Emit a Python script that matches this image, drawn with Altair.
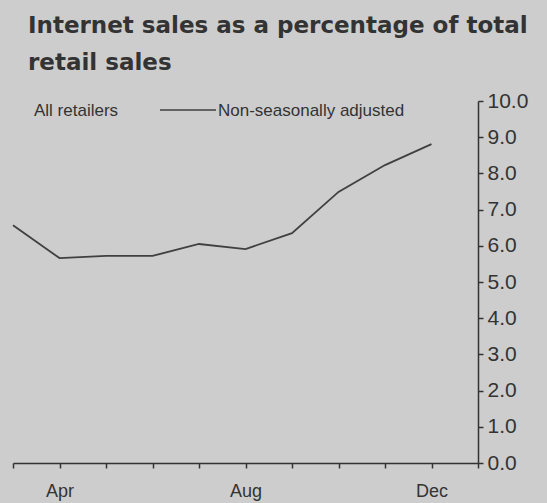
import altair as alt
import pandas as pd

# Data
months = [3, 4, 5, 6, 7, 8, 9, 10, 11, 12]
values = [6.57, 5.66, 5.72, 5.72, 6.05, 5.91, 6.35, 7.49, 8.23, 8.81]
x_ticks = [3, 4, 5, 6, 7, 8, 9, 10, 11, 12, 13]
x_labels = {4: "Apr", 8: "Aug", 12: "Dec"}
y_ticks = [0, 1, 2, 3, 4, 5, 6, 7, 8, 9, 10]
title_lines = ["Internet sales as a percentage of total", "retail sales"]
legend_left = "All retailers"
legend_right = "Non-seasonally adjusted"

df = pd.DataFrame({"month": months, "value": values})

label_expr = " : ".join(
    [f"datum.value == {k} ? '{v}'" for k, v in x_labels.items()]
) + " : ''"

TXT = "#333333"
FONT = "Liberation Sans"

line = alt.Chart(df).mark_line(color="#404040", strokeWidth=1.8).encode(
    x=alt.X(
        "month:Q",
        scale=alt.Scale(domain=[3, 13], nice=False, zero=False),
        axis=alt.Axis(
            values=x_ticks, labelExpr=label_expr, title=None, grid=False,
            domainColor=TXT, domainWidth=1.5, tickColor=TXT, tickWidth=1.5,
            tickSize=5, labelFont=FONT, labelFontSize=18, labelColor=TXT,
            labelPadding=14, labelFlush=False,
        ),
    ),
    y=alt.Y(
        "value:Q",
        scale=alt.Scale(domain=[0, 10], nice=False),
        axis=alt.Axis(
            orient="right", values=y_ticks, format=".1f", title=None, grid=False,
            domainColor=TXT, domainWidth=1.5, tickColor=TXT, tickWidth=1.5,
            tickSize=5, labelFont=FONT, labelFontSize=21, labelColor=TXT,
            labelPadding=4, labelFlush=False,
        ),
    ),
)

t1 = alt.Chart(pd.DataFrame({"t": [title_lines[0]]})).mark_text(
    align="left", baseline="alphabetic", font="DejaVu Sans", fontWeight="bold",
    fontSize=23, color=TXT,
).encode(text="t:N", x=alt.value(15), y=alt.value(-68))

t2 = alt.Chart(pd.DataFrame({"t": [title_lines[1]]})).mark_text(
    align="left", baseline="alphabetic", font="DejaVu Sans", fontWeight="bold",
    fontSize=23, color=TXT,
).encode(text="t:N", x=alt.value(15), y=alt.value(-31))

lg1 = alt.Chart(pd.DataFrame({"t": [legend_left]})).mark_text(
    align="left", baseline="alphabetic", font=FONT, fontSize=17, color=TXT,
).encode(text="t:N", x=alt.value(21), y=alt.value(15))

lg2 = alt.Chart(pd.DataFrame({"t": [legend_right]})).mark_text(
    align="left", baseline="alphabetic", font=FONT, fontSize=17, color=TXT,
).encode(text="t:N", x=alt.value(205), y=alt.value(15))

lg_line = alt.Chart(pd.DataFrame({"a": [0]})).mark_rule(
    color="#404040", strokeWidth=1.5
).encode(x=alt.value(147), x2=alt.value(203), y=alt.value(9))

chart = alt.layer(line, t1, t2, lg1, lg2, lg_line).properties(
    width=465, height=362,
    autosize=alt.AutoSizeParams(type="none"),
    padding={"left": 13, "top": 101, "right": 69, "bottom": 40},
    background="#cdcdcd",
).configure_view(stroke=None)

chart.save("out.html", embed_options={"renderer": "svg", "actions": False})
